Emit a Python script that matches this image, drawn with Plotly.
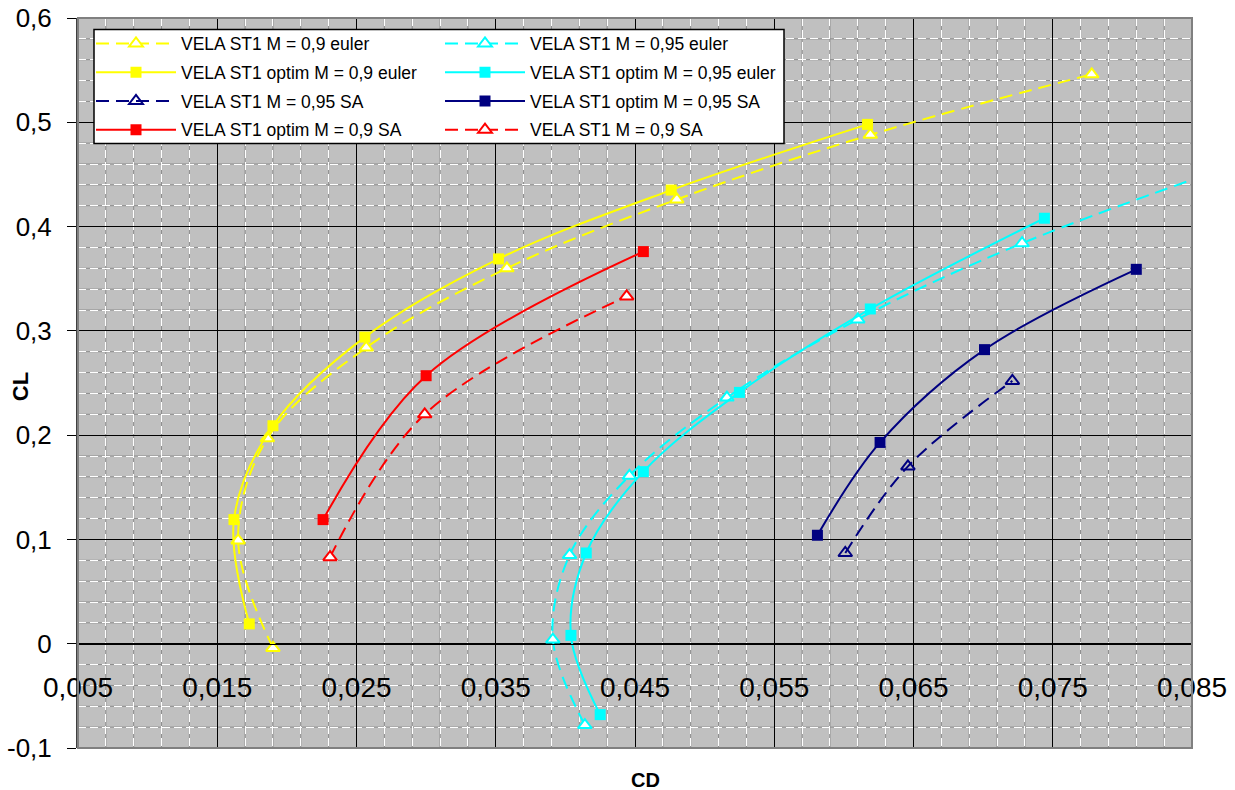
import plotly.graph_objects as go

FONT = "Liberation Sans, Arial, sans-serif"

# ---- axis ticks ----
cd_ticks = [0.005, 0.015, 0.025, 0.035, 0.045, 0.055, 0.065, 0.075, 0.085]
cd_ticktext = ["0,005", "0,015", "0,025", "0,035", "0,045", "0,055", "0,065", "0,075", "0,085"]
cl_ticks = [-0.1, 0.0, 0.1, 0.2, 0.3, 0.4, 0.5, 0.6]
cl_ticktext = ["-0,1", "0", "0,1", "0,2", "0,3", "0,4", "0,5", "0,6"]

# ---- series data (CD, CL) ----
cd_y_euler = [0.0190, 0.0165, 0.0186, 0.0257, 0.0358, 0.0480, 0.0619, 0.0778]
cl_y_euler = [-0.004, 0.099, 0.197, 0.284, 0.360, 0.426, 0.488, 0.546]

cd_c_euler = [0.0414, 0.0391, 0.0403, 0.0446, 0.0516, 0.0610, 0.0728, 0.0895]
cl_c_euler = [-0.078, 0.004, 0.085, 0.161, 0.236, 0.311, 0.384, 0.466]

cd_y_opt = [0.0173, 0.0162, 0.0190, 0.0256, 0.0352, 0.0476, 0.0617]
cl_y_opt = [0.019, 0.119, 0.209, 0.294, 0.369, 0.435, 0.498]

cd_c_opt = [0.0425, 0.0404, 0.0415, 0.0456, 0.0525, 0.0619, 0.0744]
cl_c_opt = [-0.068, 0.008, 0.087, 0.165, 0.241, 0.321, 0.408]

cd_n_sa = [0.0601, 0.0646, 0.0721]
cl_n_sa = [0.087, 0.170, 0.252]

cd_n_opt = [0.0581, 0.0626, 0.0701, 0.0810]
cl_n_opt = [0.104, 0.193, 0.282, 0.359]

cd_r_opt = [0.0226, 0.0300, 0.0456]
cl_r_opt = [0.119, 0.257, 0.376]

cd_r_sa = [0.0231, 0.0299, 0.0444]
cl_r_sa = [0.083, 0.220, 0.333]

YEL, CYA, NAV, RED = "#FFFF00", "#00FFFF", "#000080", "#FF0000"

series = [
    # name, x, y, color, dashed, legend
    ("VELA ST1 M = 0,9 euler", cd_y_euler, cl_y_euler, YEL, True, "legend"),
    ("VELA ST1 M = 0,95 euler", cd_c_euler, cl_c_euler, CYA, True, "legend2"),
    ("VELA ST1 optim M = 0,9 euler", cd_y_opt, cl_y_opt, YEL, False, "legend"),
    ("VELA ST1 optim M = 0,95 euler", cd_c_opt, cl_c_opt, CYA, False, "legend2"),
    ("VELA ST1 M = 0,95 SA", cd_n_sa, cl_n_sa, NAV, True, "legend"),
    ("VELA ST1 optim M = 0,95 SA", cd_n_opt, cl_n_opt, NAV, False, "legend2"),
    ("VELA ST1 optim M = 0,9 SA", cd_r_opt, cl_r_opt, RED, False, "legend"),
    ("VELA ST1 M = 0,9 SA", cd_r_sa, cl_r_sa, RED, True, "legend2"),
]

fig = go.Figure()
for i, (name, xs, ys, col, dashed, leg) in enumerate(series):
    if dashed:
        if col == NAV:
            marker = dict(symbol="triangle-up-open", size=12, color=col, line=dict(color=col, width=2))
        else:
            marker = dict(symbol="triangle-up", size=12, color="white", line=dict(color=col, width=2))
        line = dict(color=col, width=2, dash="13px,7px", shape="spline", smoothing=1)
    else:
        marker = dict(symbol="square", size=11, color=col, line=dict(color=col, width=0))
        line = dict(color=col, width=2, shape="spline", smoothing=1)
    fig.add_trace(go.Scatter(x=xs, y=ys, mode="lines+markers", name=name, marker=marker,
                             line=line, legend=leg, legendgroup="g%d" % i))

# ---- grid underlay (dark segments between white minor dashes) ----
shapes = []
for k in range(41):
    if k % 5 == 0:
        continue
    v = 0.005 + k * 0.002
    shapes.append(dict(type="line", xref="x", yref="y", x0=v, x1=v, y0=-0.1, y1=0.6,
                       layer="below", line=dict(color="#8c8c8c", width=1)))
for k in range(36):
    if k % 5 == 0:
        continue
    v = -0.1 + k * 0.02
    shapes.append(dict(type="line", xref="x", yref="y", x0=0.005, x1=0.085, y0=v, y1=v,
                       layer="below", line=dict(color="#8c8c8c", width=1)))

# plot-area border
shapes.append(dict(type="rect", xref="paper", yref="paper", x0=0, x1=1, y0=0, y1=1,
                   layer="above", line=dict(color="#808080", width=2)))

# legend box
W, H = 1114.0, 730.0
shapes.append(dict(type="rect", xref="paper", yref="paper",
                   x0=(94 - 78) / W, x1=(784 - 78) / W,
                   y0=1 - (143 - 17.5) / H, y1=1 - (29 - 17.5) / H,
                   layer="above", fillcolor="white", line=dict(color="black", width=1.5)))

leg_common = dict(xanchor="left", yanchor="top", bgcolor="rgba(0,0,0,0)", borderwidth=0,
                  font=dict(size=17.5, family=FONT, color="black"), itemwidth=80,
                  tracegroupgap=3, traceorder="grouped", orientation="v")

fig.update_layout(
    template="none",
    width=1235, height=790,
    margin=dict(l=78, r=43, t=18, b=42, autoexpand=False),
    paper_bgcolor="white", plot_bgcolor="#c0c0c0",
    separators=", ",
    font=dict(family=FONT, color="black"),
    showlegend=True,
    legend=dict(x=(91 - 78) / W, y=1 - (25 - 17.5) / H, **leg_common),
    legend2=dict(x=(440 - 78) / W, y=1 - (25 - 17.5) / H, **leg_common),
    shapes=shapes,
    xaxis=dict(range=[0.005, 0.085], tickmode="array", tickvals=cd_ticks, ticktext=cd_ticktext,
               automargin=False,
               showgrid=True, gridcolor="black", gridwidth=1, zeroline=False,
               anchor="free", position=0.1 / 0.7,
               showline=True, linecolor="black", linewidth=1,
               ticks="outside", ticklen=9, tickcolor="black", tickwidth=1,
               tickfont=dict(size=28, family=FONT, color="black"), ticklabelstandoff=10,
               minor=dict(tickmode="linear", tick0=0.005, dtick=0.002, showgrid=True,
                          gridcolor="white", gridwidth=1, griddash="8px,4px", ticks="")),
    yaxis=dict(range=[-0.1, 0.6], tickmode="array", tickvals=cl_ticks, ticktext=cl_ticktext,
               automargin=False,
               showgrid=True, gridcolor="black", gridwidth=1, zeroline=False,
               showline=True, linecolor="#404040", linewidth=2,
               ticks="outside", ticklen=9, tickcolor="black", tickwidth=1,
               tickfont=dict(size=26, family=FONT, color="black"), ticklabelstandoff=10,
               minor=dict(tickmode="linear", tick0=-0.1, dtick=0.02, showgrid=True,
                          gridcolor="white", gridwidth=1, griddash="8px,4px", ticks="")),
    annotations=[
        dict(text="<b>CL</b>", xref="paper", yref="paper", x=(20.5 - 78) / W, y=0.495,
             textangle=-90, showarrow=False, xanchor="center", yanchor="middle",
             font=dict(size=22, family=FONT, color="black")),
        dict(text="<b>CD</b>", xref="paper", yref="paper", x=(645 - 78) / W, y=-(780 - 747.6) / H,
             showarrow=False, xanchor="center", yanchor="middle",
             font=dict(size=20, family=FONT, color="black")),
    ],
)

fig.write_html("out.html")
